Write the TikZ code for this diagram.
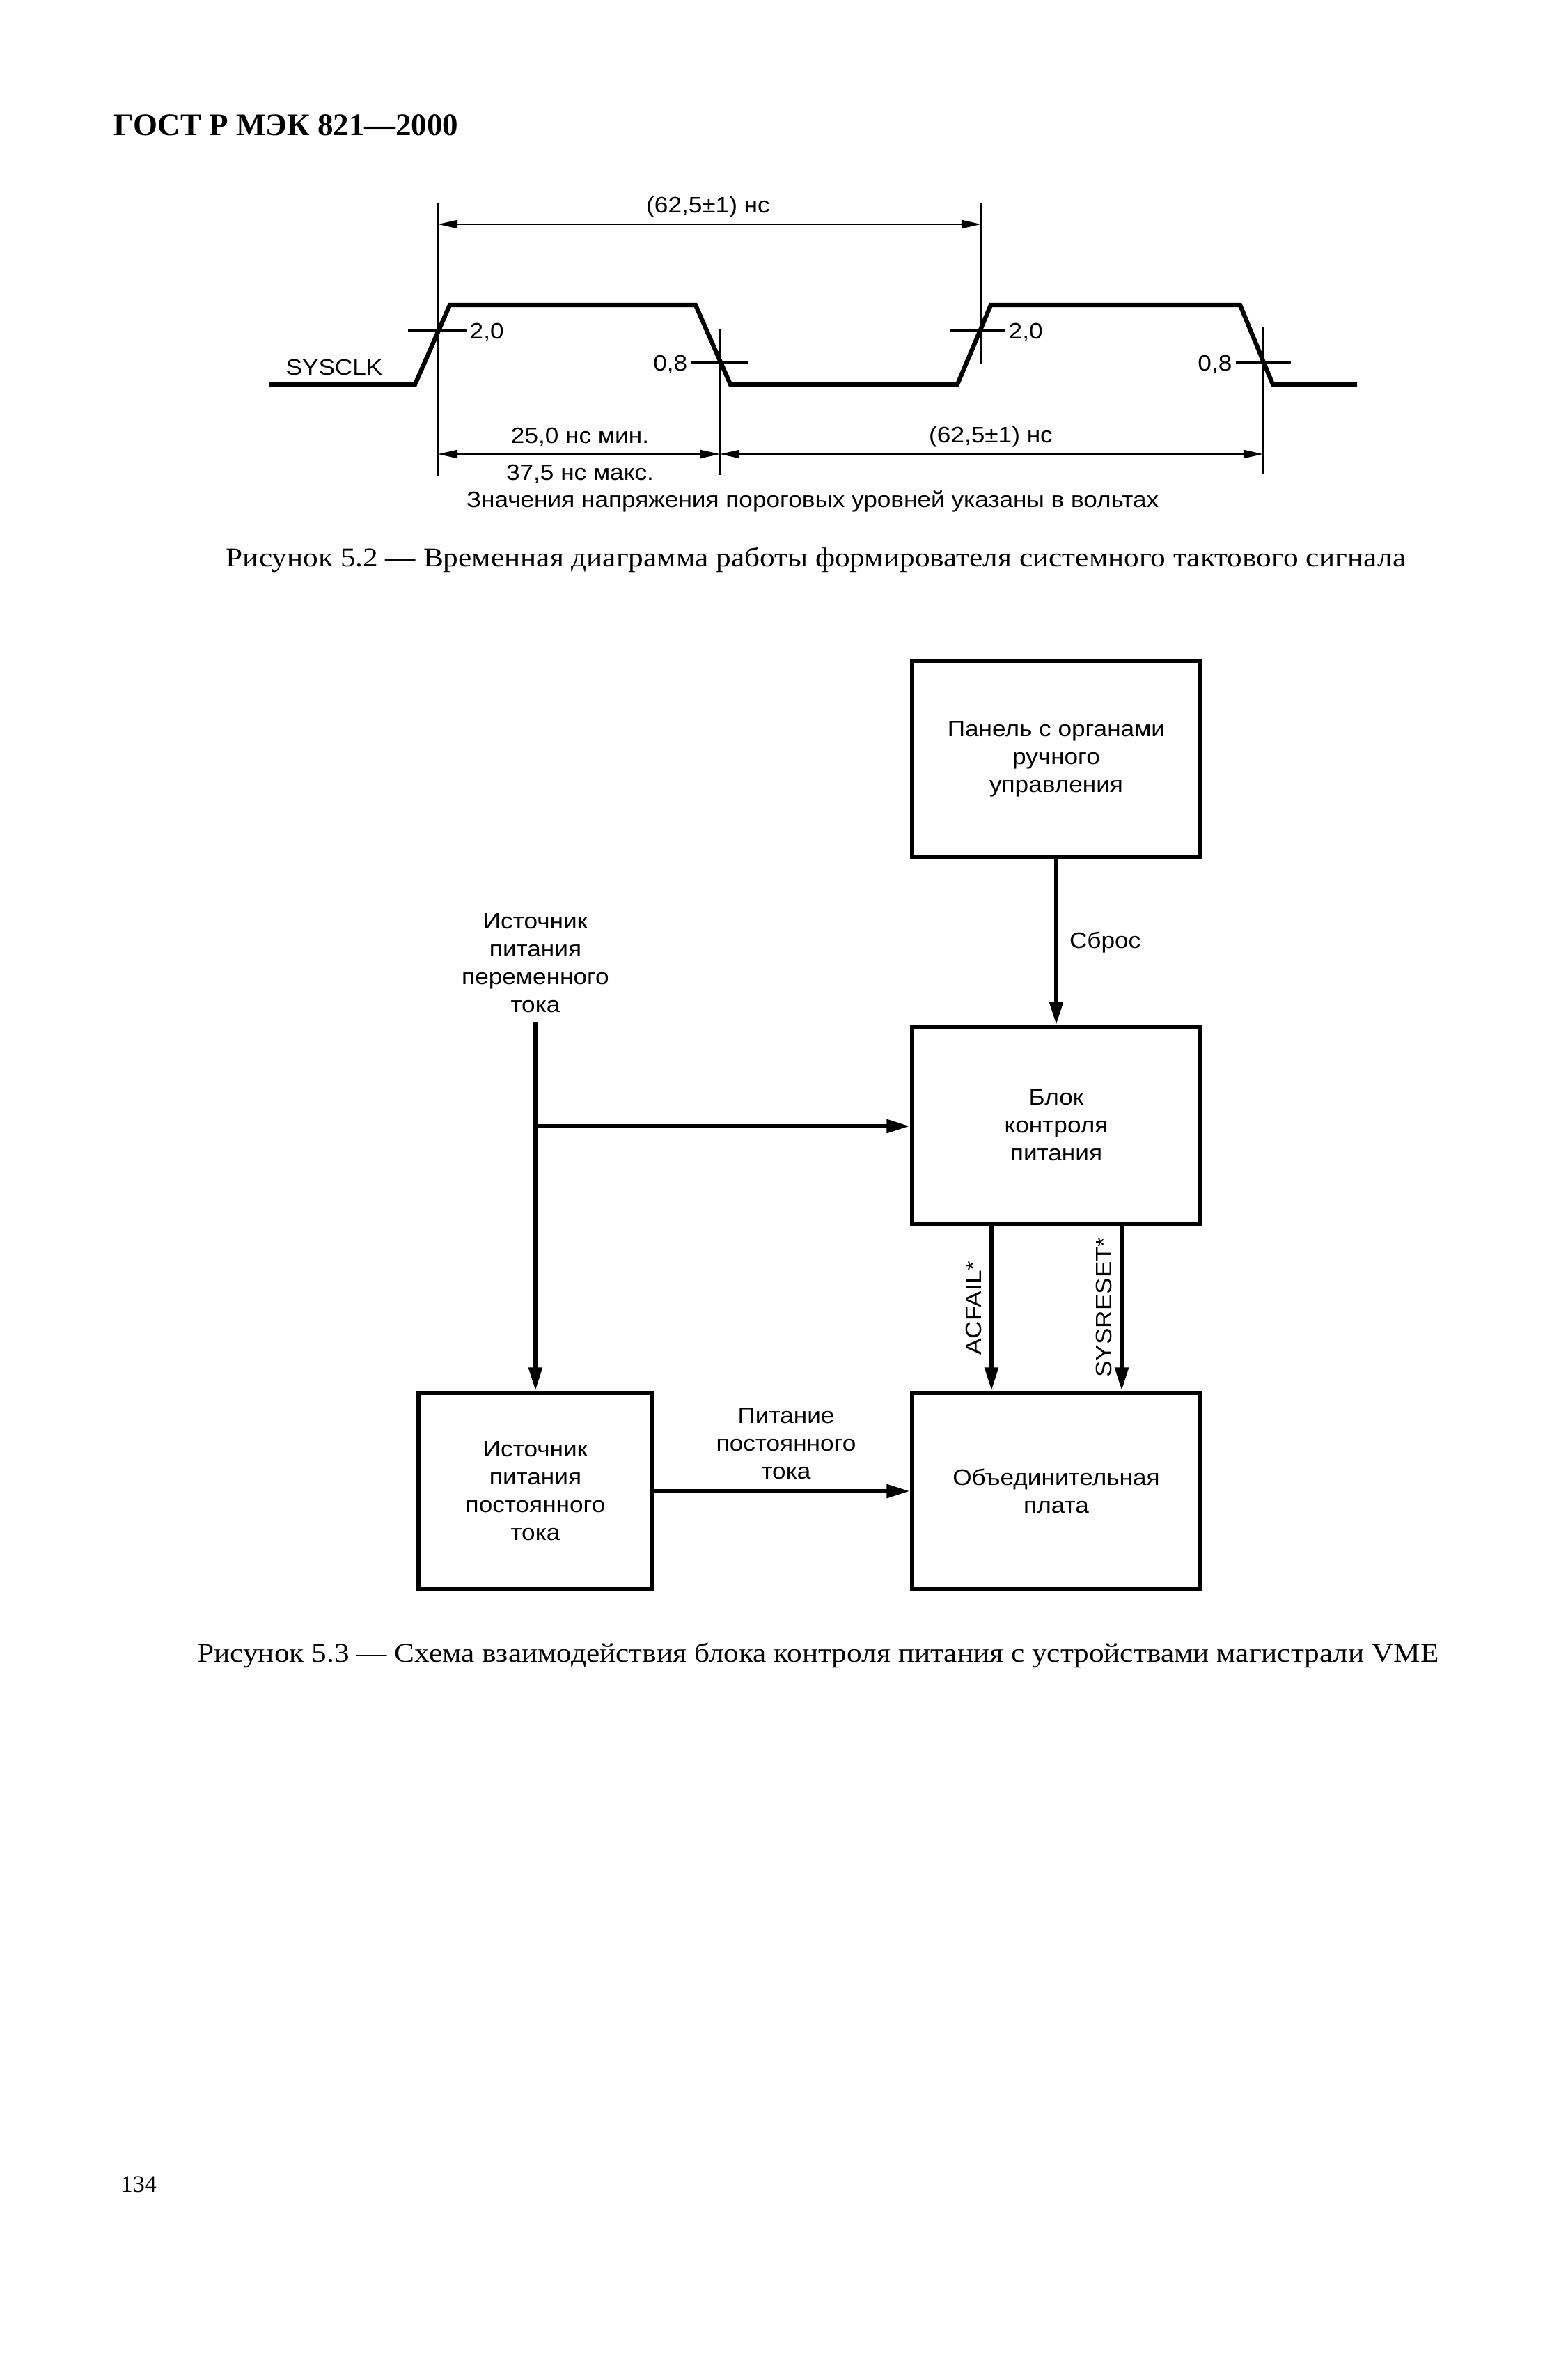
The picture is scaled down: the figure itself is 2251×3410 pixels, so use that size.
\documentclass[tikz,border=0pt]{standalone}
\usepackage{fontspec}
\setmainfont{Liberation Serif}
\setsansfont[FakeStretch=1.1]{Liberation Sans}
\newfontfamily\capfont[FakeStretch=1.12]{Liberation Serif}
\usetikzlibrary{arrows.meta}
\begin{document}
\begin{tikzpicture}[x=0.1mm,y=-0.1mm,
  sans/.style={font=\sffamily\fontsize{9.1}{11.4}\selectfont, inner sep=0pt},
  boxn/.style={draw, line width=1.9pt, minimum width=41.4mm, minimum height=28.2mm, align=center, inner sep=0pt, font=\sffamily\fontsize{9.1}{11.4}\selectfont},
  conn/.style={line width=1.7pt, -{Triangle[length=9.5pt,width=5.4pt]}},
  dimline/.style={line width=0.7pt},
  dimarr/.style={line width=0.7pt, {Triangle[length=8pt,width=3.4pt]}-{Triangle[length=8pt,width=3.4pt]}},
  sig/.style={line width=1.8pt, line join=miter},
  tick/.style={line width=1pt},
  capt/.style={font=\capfont\fontsize{11}{13}\selectfont, inner sep=0pt, anchor=base}
]
\useasboundingbox (0,0) rectangle (2251,3410);
\fill[white] (0,0) rectangle (2251,3410);

% header
\node[anchor=base west, inner sep=0pt, font=\bfseries\fontsize{12.8}{14}\selectfont] (hdr) at (163,195) {ГОСТ Р МЭК 821—2000};

% ---------- timing diagram ----------
\draw[sig] (386,552) -- (596,552) -- (646,438) -- (999,438) -- (1049,552) -- (1375,552) -- (1423,438) -- (1781,438) -- (1828,552) -- (1949,552);
% extension lines
\draw[dimline] (629,292) -- (629,683);
\draw[dimline] (1409,292) -- (1409,522);
\draw[dimline] (1034,473) -- (1034,682);
\draw[dimline] (1814,470) -- (1814,680);
% dimension arrows
\coordinate (t1) at (629,322);
\coordinate (t2) at (1409,322);
\draw[dimarr] (t1) -- (t2);
\coordinate (b1) at (629,652);
\coordinate (b2) at (1034,652);
\coordinate (b3) at (1814,652);
\draw[dimarr] (b1) -- (b2);
\draw[dimarr] (b2) -- (b3);
% threshold ticks
\draw[tick] (586,475) -- (670,475);
\draw[tick] (1365,475) -- (1444,475);
\draw[tick] (993,521) -- (1075,521);
\draw[tick] (1775,521) -- (1854,521);
\node[sans, anchor=west] (v20a) at (674,477) {2,0};
\node[sans, anchor=west] (v20b) at (1448,477) {2,0};
\node[sans, anchor=east] (v08a) at (988,523) {0,8};
\node[sans, anchor=east] (v08b) at (1770,523) {0,8};
\node[sans] (sysclk) at (480,527) {SYSCLK};
\node[sans] (tper) at (1017,297) {(62,5±1) нс};
\node[sans] (tmin) at (833,627) {25,0 нс мин.};
\node[sans] (tmax) at (833,680) {37,5 нс макс.};
\node[sans] (tper2) at (1423,627) {(62,5±1) нс};
\node[sans] (note) at (1167,720) {Значения напряжения пороговых уровней указаны в вольтах};

\node[capt] (cap2) at (1172,814) {Рисунок 5.2 — Временная диаграмма работы формирователя системного тактового сигнала};

% ---------- block diagram ----------
\node[boxn] (panel) at (1517,1090) {Панель с органами\\ручного\\управления};
\node[boxn] (blok) at (1517,1616) {Блок\\контроля\\питания};
\node[boxn] (obed) at (1517,2141) {Объединительная\\плата};
\node[boxn, minimum width=33.6mm] (ist) at (769,2141) {Источник\\питания\\постоянного\\тока};
\node[sans, align=center] (ac) at (769,1383) {Источник\\питания\\переменного\\тока};
\coordinate (jn) at (769,1617);

\draw[conn] ([yshift=-1.3mm]ac.south) -- (ist.north);
\draw[conn] (jn) -- (jn -| blok.west);
\draw[conn] (panel.south) -- (blok.north) node[sans, midway, anchor=west, xshift=1.6mm] (sbros) {Сброс};
\draw[conn] ([xshift=-9.3mm]blok.south) -- ([xshift=-9.3mm]obed.north);
\draw[conn] ([xshift=9.4mm]blok.south) -- ([xshift=9.4mm]obed.north);
\node[sans, rotate=90] (acf) at (1398,1878) {ACFAIL*};
\node[sans, rotate=90] (sysr) at (1585,1877) {SYSRESET*};
\draw[conn] (ist.east) -- (obed.west);
\node[sans, align=center] (dcl) at (1129,2073) {Питание\\постоянного\\тока};

\node[capt] (cap3) at (1175,2386) {Рисунок 5.3 — Схема взаимодействия блока контроля питания с устройствами магистрали VME};

% page number
\node[anchor=base west, inner sep=0pt, font=\fontsize{9.7}{11}\selectfont] (pg) at (173,3147) {134};
\end{tikzpicture}
\end{document}
